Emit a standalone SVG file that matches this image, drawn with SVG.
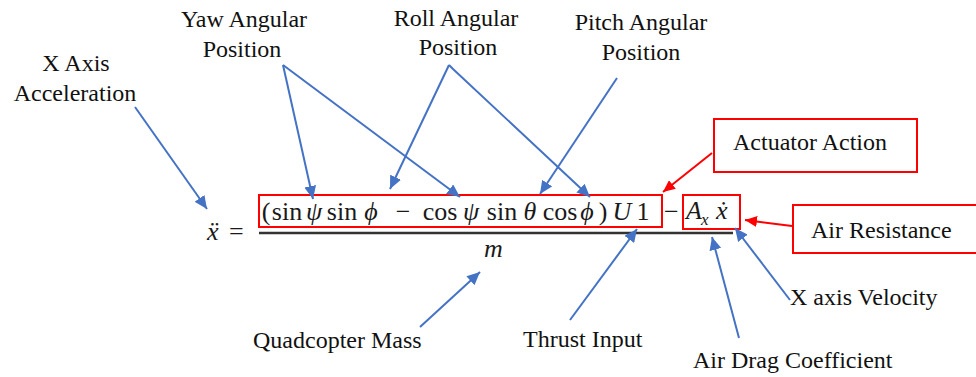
<svg xmlns="http://www.w3.org/2000/svg" width="976" height="377" viewBox="0 0 976 377">
<defs>
<style>
.lbl{font-size:24px;fill:#111}
.eq{font-size:26px;fill:#1a1a1a}
.it{font-style:italic}
.blue{stroke:#4472C4;stroke-width:2;fill:none;marker-end:url(#ab)}
.red{stroke:#FF0000;stroke-width:2;fill:none;marker-end:url(#ar)}
.rbox{fill:none;stroke:#FF0000;stroke-width:2}
</style>
<marker id="ab" markerUnits="userSpaceOnUse" markerWidth="14" markerHeight="12" refX="13" refY="6" orient="auto">
<path d="M0,0 L13,6 L0,12 z" fill="#4472C4"/>
</marker>
<marker id="ar" markerUnits="userSpaceOnUse" markerWidth="13" markerHeight="11" refX="12" refY="5.5" orient="auto">
<path d="M0,0 L12,5.5 L0,11 z" fill="#FF0000"/>
</marker>
</defs>
<rect width="976" height="377" fill="#fff"/>
<g font-family="Liberation Serif, Times New Roman, serif">
<g id="equation">
<rect id="box-actuator-term" class="rbox" x="259" y="195" width="403" height="32"/>
<rect id="box-drag-term" class="rbox" x="683" y="195" width="57" height="34"/>
<text class="eq it" x="207" y="240">ẍ</text>
<text class="eq" x="229" y="240">=</text>
<text class="eq" y="220" text-anchor="middle"><tspan x="266">(</tspan><tspan x="287">sin</tspan><tspan class="it" x="314">ψ</tspan><tspan x="342">sin</tspan><tspan class="it" x="371">ϕ</tspan><tspan x="403">−</tspan><tspan x="440">cos</tspan><tspan class="it" x="471">ψ</tspan><tspan x="502">sin</tspan><tspan class="it" x="530">θ</tspan><tspan x="560">cos</tspan><tspan class="it" x="587">ϕ</tspan><tspan x="603">)</tspan><tspan class="it" x="622">U</tspan><tspan x="643">1</tspan></text>
<text class="eq" x="664" y="220">−</text>
<text class="eq it" x="686" y="219">A</text>
<text class="eq it" x="701" y="225" style="font-size:17px">x</text>
<text class="eq it" x="716" y="219">ẋ</text>
<line x1="259" y1="233" x2="733" y2="233" stroke="#333" stroke-width="2.5"/>
<text class="eq it" x="484" y="257">m</text>
</g>

<g id="label-x-accel"><text class="lbl" text-anchor="middle" x="76" y="71">X Axis</text><text class="lbl" text-anchor="middle" x="75" y="101">Acceleration</text></g>
<g id="label-yaw"><text class="lbl" text-anchor="middle" x="244" y="27">Yaw Angular</text><text class="lbl" text-anchor="middle" x="242" y="57">Position</text></g>
<g id="label-roll"><text class="lbl" text-anchor="middle" x="456" y="26">Roll Angular</text><text class="lbl" text-anchor="middle" x="458" y="55">Position</text></g>
<g id="label-pitch"><text class="lbl" text-anchor="middle" x="641" y="30">Pitch Angular</text><text class="lbl" text-anchor="middle" x="641" y="60">Position</text></g>
<g id="node-actuator"><rect class="rbox" x="714" y="119" width="203" height="53"/><text class="lbl" x="733" y="150">Actuator Action</text></g>
<g id="node-air-resistance"><rect class="rbox" x="793" y="205" width="200" height="48"/><text class="lbl" x="811" y="238">Air Resistance</text></g>
<g id="label-x-vel"><text class="lbl" x="790" y="305">X axis Velocity</text></g>
<g id="label-mass"><text class="lbl" x="253" y="348">Quadcopter Mass</text></g>
<g id="label-thrust"><text class="lbl" x="523" y="347">Thrust Input</text></g>
<g id="label-drag"><text class="lbl" x="693" y="368">Air Drag Coefficient</text></g>
</g>
<g id="connectors">
<line class="blue" x1="135" y1="107" x2="207" y2="209"/>
<line class="blue" x1="283" y1="65" x2="313" y2="199"/>
<line class="blue" x1="283" y1="65" x2="460" y2="197"/>
<line class="blue" x1="449" y1="65" x2="390" y2="189"/>
<polyline class="blue" points="449,65 453,69 590,197"/>
<line class="blue" x1="617" y1="78" x2="540" y2="194"/>
<line class="blue" x1="420" y1="327" x2="480" y2="272"/>
<line class="blue" x1="570" y1="320" x2="637" y2="229"/>
<line class="blue" x1="739" y1="338" x2="712" y2="237"/>
<line class="blue" x1="790" y1="300" x2="735" y2="228"/>
<line class="red" x1="712" y1="153" x2="663" y2="192"/>
<line class="red" x1="792" y1="226" x2="745" y2="220"/>
</g>
</svg>
